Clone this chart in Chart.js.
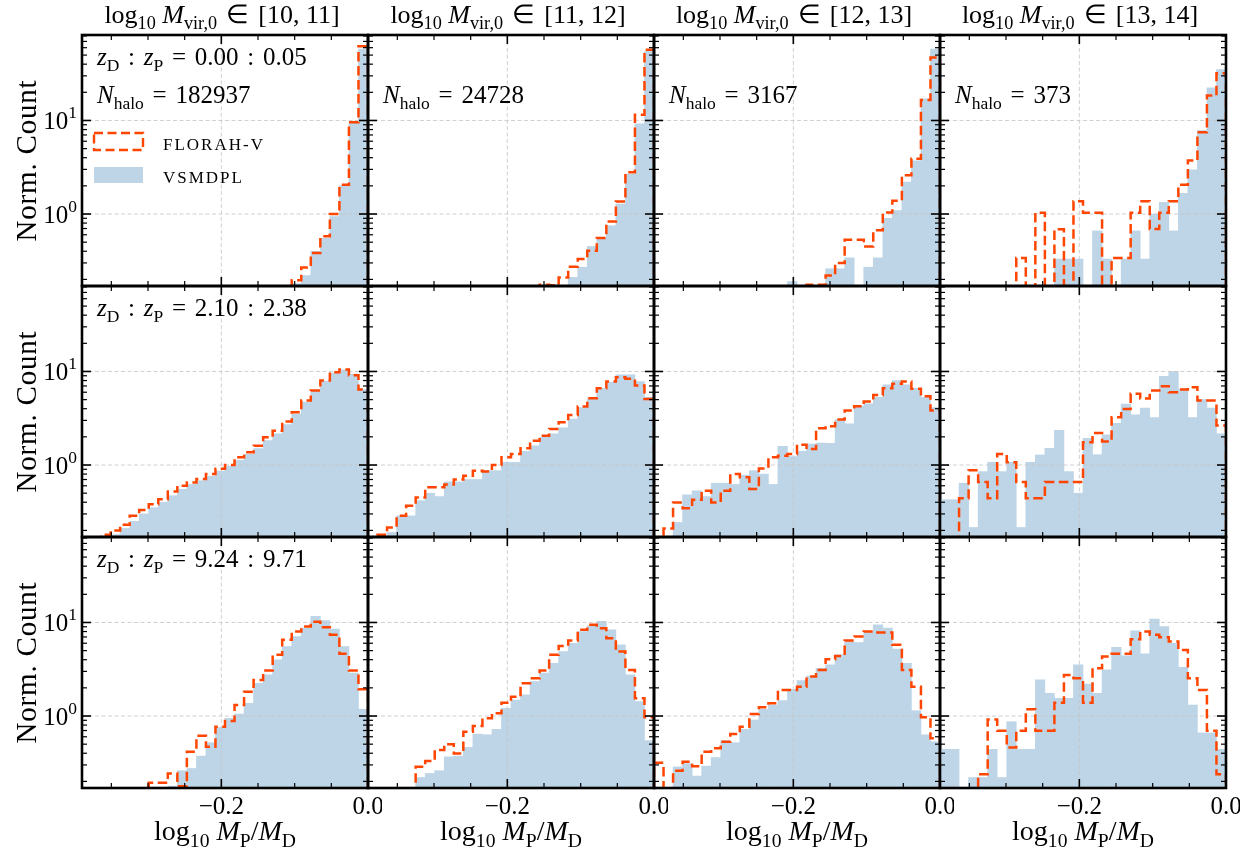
<!DOCTYPE html>
<html>
<head>
<meta charset="utf-8">
<script src="https://cdn.jsdelivr.net/npm/chart.js@4.4.1/dist/chart.umd.min.js"></script>
<style>
  html, body { margin: 0; padding: 0; background: #fff; }
  #fig { position: relative; width: 1258px; height: 856px; overflow: hidden; }
  #fig canvas { position: absolute; }
</style>
</head>
<body>
<div id="fig"></div>
<script>
// histogram bins in log10(M_P / M_D), 30 bins of 0.013 from -0.39 to 0
const binEdges = Array.from({ length: 31 }, (_, i) => (-390 + 13 * i) / 1000)

const massRanges = ['[10, 11]', '[11, 12]', '[12, 13]', '[13, 14]']
const redshiftPairs = [['0.00', '0.05'], ['2.10', '2.38'], ['9.24', '9.71']]
const haloCounts = [182937, 24728, 3167, 373]

const xMajorTicks = [-0.2, 0.0]
const xTickLabels = ['\u22120.2', '0.0']
const xMinorTicks = [-0.35, -0.3, -0.25, -0.15, -0.1, -0.05]
const yMajorTicks = [1, 10]
const yTickExponents = ['0', '1']
const yMinorTicks = [0.2, 0.3, 0.4, 0.5, 0.6, 0.7, 0.8, 0.9, 2, 3, 4, 5, 6, 7, 8, 9, 20, 30, 40, 50, 60, 70, 80]

// z = 0.00 : 0.05
const florah_z0_m10 = [0, 0, 0, 0, 0, 0, 0, 0, 0, 0, 0, 0, 0, 0, 0, 0, 0, 0, 0, 0, 0, 0.1, 0.196, 0.268, 0.382, 0.577, 1.0, 2.05, 9.6, 62]
const vsmdpl_z0_m10 = [0, 0, 0, 0, 0, 0, 0, 0, 0, 0, 0, 0, 0, 0, 0, 0, 0, 0, 0, 0, 0, 0, 0.18, 0.22, 0.40, 0.55, 0.94, 2.0, 9.4, 58]
const florah_z0_m11 = [0, 0, 0, 0, 0, 0, 0, 0, 0, 0, 0, 0, 0, 0, 0, 0, 0, 0, 0.175, 0.173, 0.21, 0.273, 0.33, 0.405, 0.553, 0.83, 1.36, 2.79, 11.5, 57]
const vsmdpl_z0_m11 = [0, 0, 0, 0, 0, 0, 0, 0, 0, 0, 0, 0, 0, 0, 0, 0, 0, 0, 0, 0, 0.17, 0.21, 0.27, 0.45, 0.55, 0.75, 1.28, 2.68, 9.2, 55]
const florah_z0_m12 = [0, 0, 0, 0, 0, 0, 0, 0, 0, 0, 0, 0, 0, 0, 0, 0, 0.175, 0.175, 0.22, 0.30, 0.53, 0.53, 0.45, 0.67, 1.04, 1.39, 2.6, 3.9, 16.6, 47]
const vsmdpl_z0_m12 = [0, 0, 0, 0, 0, 0, 0, 0, 0, 0, 0, 0, 0, 0, 0.19, 0, 0, 0, 0.26, 0.26, 0.34, 0, 0.27, 0.34, 0.9, 1.09, 2.2, 3.7, 17, 58]
const florah_z0_m13 = [0, 0, 0, 0, 0, 0, 0, 0, 0.338, 0, 1.03, 0, 0.686, 0, 1.37, 1.03, 1.03, 0, 0.338, 0.338, 1.03, 1.37, 0.69, 1.03, 1.37, 2.06, 3.73, 7.5, 18.5, 32]
const vsmdpl_z0_m13 = [0, 0, 0, 0, 0, 0, 0, 0, 0, 0, 0, 0, 0.33, 0.33, 0.33, 0, 0.66, 0.33, 0, 0.33, 0.66, 0.33, 1.0, 1.33, 0.66, 1.66, 2.96, 7.8, 22.4, 35]

// z = 2.10 : 2.38
const florah_z2_m10 = [0, 0.16, 0.18, 0.20, 0.23, 0.286, 0.33, 0.38, 0.43, 0.52, 0.60, 0.65, 0.71, 0.80, 0.91, 1.0, 1.21, 1.37, 1.61, 1.98, 2.33, 2.91, 3.66, 4.88, 6.25, 8.0, 9.8, 10.5, 9.1, 6.4]
const vsmdpl_z2_m10 = [0, 0.15, 0.17, 0.18, 0.21, 0.25, 0.30, 0.35, 0.40, 0.47, 0.55, 0.62, 0.68, 0.76, 0.86, 0.97, 1.12, 1.30, 1.50, 1.82, 2.15, 2.7, 3.5, 4.7, 6.1, 7.9, 9.6, 10.4, 9.4, 6.4]
const florah_z2_m11 = [0, 0.18, 0.215, 0.286, 0.366, 0.45, 0.577, 0.577, 0.62, 0.70, 0.77, 0.87, 0.85, 1.0, 1.21, 1.31, 1.51, 1.82, 2.06, 2.43, 2.87, 3.43, 4.22, 5.18, 6.63, 7.81, 8.69, 8.35, 7.08, 5.09]
const vsmdpl_z2_m11 = [0, 0, 0.19, 0.286, 0.286, 0.415, 0.5, 0.46, 0.66, 0.66, 0.7, 0.7, 0.87, 0.87, 1.07, 1.07, 1.4, 1.6, 1.98, 2.15, 2.5, 3.1, 4.1, 5.1, 6.6, 7.7, 9.2, 9.2, 7.8, 5.3]
const florah_z2_m12 = [0, 0.21, 0.398, 0.344, 0.425, 0.531, 0.398, 0.531, 0.80, 0.74, 0.553, 0.92, 1.21, 1.26, 1.31, 1.65, 1.48, 2.47, 2.6, 3.06, 3.82, 4.25, 4.77, 5.62, 6.63, 7.38, 7.81, 6.52, 5.44, 3.82]
const vsmdpl_z2_m12 = [0, 0, 0.243, 0.48, 0.53, 0.46, 0.64, 0.64, 0.62, 0.78, 0.87, 0.80, 0.62, 1.58, 1.23, 1.4, 1.67, 1.72, 1.71, 3.06, 2.75, 4.25, 4.5, 5.3, 7.2, 8.0, 7.2, 6.6, 5.3, 4.1]
const florah_z2_m13 = [0, 0, 0.44, 0.88, 0.66, 0.44, 1.31, 1.07, 0.66, 0.44, 0.44, 0.66, 0.66, 0.66, 0.66, 1.75, 2.2, 1.78, 3.24, 3.98, 5.77, 5.15, 6.26, 6.96, 6.0, 6.41, 6.79, 4.88, 4.88, 2.64]
const vsmdpl_z2_m13 = [0.425, 0.425, 0.64, 0.215, 0.85, 1.07, 0.85, 1.07, 0.215, 1.07, 1.28, 1.51, 2.35, 0.85, 0.5, 1.93, 1.29, 2.1, 2.79, 4.47, 3.43, 4.05, 3.21, 8.9, 10.0, 6.5, 3.21, 5.0, 4.05, 2.15]

// z = 9.24 : 9.71
const florah_z9_m10 = [0, 0, 0, 0, 0, 0, 0, 0.193, 0.193, 0.243, 0.178, 0.415, 0.615, 0.469, 0.769, 0.883, 1.31, 1.82, 2.43, 3.06, 4.51, 6.52, 8.01, 9.06, 10.2, 8.9, 7.38, 4.62, 3.06, 1.93]
const vsmdpl_z9_m10 = [0, 0, 0, 0, 0, 0, 0, 0, 0, 0.178, 0.26, 0.275, 0.373, 0.518, 0.755, 0.944, 1.05, 1.37, 2.24, 2.75, 3.98, 5.53, 7.08, 8.7, 11.6, 10.5, 8.49, 5.53, 2.87, 1.18]
const florah_z9_m11 = [0, 0, 0, 0, 0, 0.286, 0.33, 0.432, 0.5, 0.398, 0.68, 0.78, 0.944, 1.07, 1.39, 1.61, 2.24, 2.53, 3.06, 4.51, 5.62, 6.41, 8.35, 9.44, 8.69, 6.79, 4.88, 3.11, 1.55, 0.968]
const vsmdpl_z9_m11 = [0, 0, 0, 0, 0, 0.22, 0.243, 0.26, 0.366, 0.373, 0.462, 0.641, 0.63, 0.72, 1.21, 1.48, 1.68, 2.33, 2.87, 3.66, 4.88, 6.0, 8.0, 9.2, 10.3, 8.35, 5.77, 2.75, 1.43, 0.545]
const florah_z9_m12 = [0.316, 0, 0.26, 0.324, 0.291, 0.415, 0.451, 0.531, 0.641, 0.769, 1.05, 1.24, 1.37, 1.9, 1.9, 2.06, 2.64, 3.11, 4.05, 4.39, 6.41, 7.08, 8.0, 7.8, 7.8, 5.77, 3.11, 2.06, 0.97, 0.577]
const vsmdpl_z9_m12 = [0, 0, 0.286, 0.31, 0.228, 0.291, 0.36, 0.545, 0.518, 0.72, 0.906, 1.18, 1.31, 1.46, 1.93, 2.39, 2.68, 3.24, 3.52, 4.51, 6.25, 6.1, 8.0, 9.44, 8.7, 5.18, 3.66, 1.14, 0.63, 0.53]
const florah_z9_m13 = [0, 0, 0, 0, 0.239, 0.92, 0.697, 0.462, 0.697, 1.18, 0.697, 0.697, 1.39, 2.75, 2.53, 1.39, 3.24, 4.33, 4.62, 4.62, 6.63, 8.0, 7.38, 6.96, 6.26, 5.09, 2.53, 1.9, 0.697, 0.239]
const vsmdpl_z9_m13 = [0.44, 0.44, 0, 0.22, 0.22, 0.44, 0.22, 0.87, 0.44, 0.44, 2.43, 1.75, 1.55, 1.55, 3.52, 2.2, 1.75, 3.11, 5.44, 4.39, 8.14, 4.62, 10.9, 9.06, 6.0, 3.32, 1.31, 0.66, 0.66, 0.44]

const florahGrid = [
  [florah_z0_m10, florah_z0_m11, florah_z0_m12, florah_z0_m13],
  [florah_z2_m10, florah_z2_m11, florah_z2_m12, florah_z2_m13],
  [florah_z9_m10, florah_z9_m11, florah_z9_m12, florah_z9_m13],
]
const vsmdplGrid = [
  [vsmdpl_z0_m10, vsmdpl_z0_m11, vsmdpl_z0_m12, vsmdpl_z0_m13],
  [vsmdpl_z2_m10, vsmdpl_z2_m11, vsmdpl_z2_m12, vsmdpl_z2_m13],
  [vsmdpl_z9_m10, vsmdpl_z9_m11, vsmdpl_z9_m12, vsmdpl_z9_m13],
]

const X_MIN = -0.39, X_MAX = 0
const Y_MIN = 0.17, Y_MAX = 82
const FLOOR = 0.01 // empty bins drop below the axis

const ORANGE = '#ff4500'
const BLUE = '#bdd5e7'
const GRID = '#c4c4c4'
const SERIF = '"Liberation Serif", "Times New Roman", serif'

const PANEL_X = [82, 368, 654, 940]
const PANEL_Y = [35, 286, 537]
const PANEL_W = 286
const PANEL_H = 251
const PAD = { left: 90, right: 14, top: 40, bottom: 70 }

// step outline like a histtype='step' histogram
function outlinePoints(counts) {
  const pts = [{ x: binEdges[0], y: FLOOR }]
  counts.forEach((c, i) => {
    const v = c > 0 ? c : FLOOR
    pts.push({ x: binEdges[i], y: v }, { x: binEdges[i + 1], y: v })
  })
  pts.push({ x: binEdges[binEdges.length - 1], y: FLOOR })
  return pts
}

function barPoints(counts) {
  return counts.map((c, i) => ({ x: (binEdges[i] + binEdges[i + 1]) / 2, y: c > 0 ? c : null }))
}

// text with italic letters, sub/superscripts and spaced relation signs
function drawRich(ctx, parts, x, y, size, align) {
  const runs = parts.map(([text, style = '']) => {
    const small = style.includes('sub') || style.includes('sup')
    const px = small ? size * 0.7 : size
    const font = (style.includes('it') ? 'italic ' : '') + px + 'px ' + SERIF
    ctx.font = font
    const dy = style.includes('sub') ? size * 0.24 : style.includes('sup') ? -size * 0.42 : 0
    const pad = style.includes('rel') ? size * 0.35 : 0
    return { text, font, dy, pad, w: ctx.measureText(text).width + 2 * pad }
  })
  const total = runs.reduce((s, r) => s + r.w, 0)
  let cx = align === 'center' ? x - total / 2 : align === 'right' ? x - total : x
  ctx.textAlign = 'left'
  ctx.textBaseline = 'alphabetic'
  runs.forEach(r => {
    ctx.font = r.font
    ctx.fillText(r.text, cx + r.pad, y + r.dy)
    cx += r.w
  })
}

function strokeLine(ctx, x1, y1, x2, y2) {
  ctx.beginPath()
  ctx.moveTo(x1, y1)
  ctx.lineTo(x2, y2)
  ctx.stroke()
}

const frame = {
  id: 'frame',
  afterDatasetDraw(chart, args) {
    if (args.meta.type !== 'bar') return
    const { ctx, chartArea: a, scales: { x, y } } = chart
    ctx.save()
    ctx.beginPath()
    ctx.rect(a.left, a.top, a.right - a.left, a.bottom - a.top)
    ctx.clip()
    ctx.strokeStyle = GRID
    ctx.lineWidth = 0.8
    ctx.setLineDash([4, 2.5])
    xMajorTicks.forEach(v => {
      const px = x.getPixelForValue(v)
      strokeLine(ctx, px, a.top, px, a.bottom)
    })
    yMajorTicks.forEach(v => {
      const py = y.getPixelForValue(v)
      strokeLine(ctx, a.left, py, a.right, py)
    })
    ctx.restore()
  },
  afterDraw(chart, args, opts) {
    const { ctx, chartArea: a, scales: { x, y } } = chart
    const { row, col } = opts
    ctx.save()
    ctx.strokeStyle = '#000'
    ctx.fillStyle = '#000'

    // inward ticks on all four sides
    const ticks = (values, len, width, vertical) => {
      ctx.lineWidth = width
      values.forEach(v => {
        if (vertical) {
          const px = x.getPixelForValue(v)
          if (px <= a.left + 1 || px >= a.right - 1) return
          strokeLine(ctx, px, a.bottom, px, a.bottom - len)
          strokeLine(ctx, px, a.top, px, a.top + len)
        } else {
          const py = y.getPixelForValue(v)
          if (py <= a.top + 1 || py >= a.bottom - 1) return
          strokeLine(ctx, a.left, py, a.left + len, py)
          strokeLine(ctx, a.right, py, a.right - len, py)
        }
      })
    }
    ticks(xMajorTicks, 9, 1.6, true)
    ticks(xMinorTicks, 5, 1.2, true)
    ticks(yMajorTicks, 9, 1.6, false)
    ticks(yMinorTicks, 5, 1.2, false)

    ctx.lineWidth = 2.6
    ctx.strokeRect(a.left, a.top, a.right - a.left, a.bottom - a.top)

    // tick labels and axis labels
    if (row === 2) {
      ctx.font = '25px ' + SERIF
      ctx.textAlign = 'center'
      ctx.textBaseline = 'alphabetic'
      xMajorTicks.forEach((v, i) => ctx.fillText(xTickLabels[i], x.getPixelForValue(v), a.bottom + 26))
      drawRich(ctx, [['log'], ['10', 'sub'], [' '], ['M', 'it'], ['P', 'sub'], ['/'], ['M', 'it'], ['D', 'sub']],
        (a.left + a.right) / 2, a.bottom + 52, 28, 'center')
    }
    if (col === 0) {
      yMajorTicks.forEach((v, i) => {
        drawRich(ctx, [['10'], [yTickExponents[i], 'sup']], a.left - 5, y.getPixelForValue(v) + 8.5, 25, 'right')
      })
      ctx.save()
      ctx.translate(a.left - 46, (a.top + a.bottom) / 2)
      ctx.rotate(-Math.PI / 2)
      ctx.font = '29px ' + SERIF
      ctx.letterSpacing = '0.8px'
      ctx.textAlign = 'center'
      ctx.fillText('Norm. Count', 0, 0)
      ctx.restore()
    }

    // column headers and panel annotations
    if (row === 0) {
      drawRich(ctx, [['log'], ['10', 'sub'], [' '], ['M', 'it'], ['vir,0', 'sub'], ['\u2208', 'rel'], [massRanges[col]]],
        (a.left + a.right) / 2 - 3, a.top - 12, 26, 'center')
      drawRich(ctx, [['N', 'it'], ['halo', 'sub'], ['=', 'rel'], [String(haloCounts[col])]], a.left + 15, a.top + 68, 25, 'left')
    }
    if (col === 0) {
      const [zd, zp] = redshiftPairs[row]
      drawRich(ctx, [['z', 'it'], ['D', 'sub'], [':', 'rel'], ['z', 'it'], ['P', 'sub'], ['=', 'rel'], [zd], [':', 'rel'], [zp]],
        a.left + 15, a.top + 30, 25, 'left')
    }

    // legend
    if (row === 0 && col === 0) {
      ctx.save()
      ctx.strokeStyle = ORANGE
      ctx.lineWidth = 2.4
      ctx.setLineDash([9, 4.5])
      ctx.strokeRect(a.left + 12, a.top + 98, 49, 17)
      ctx.restore()
      ctx.fillStyle = BLUE
      ctx.fillRect(a.left + 12, a.top + 132, 49, 16)
      ctx.fillStyle = '#000'
      ctx.font = '17px ' + SERIF
      ctx.letterSpacing = '2px'
      ctx.textAlign = 'left'
      ctx.fillText('FLORAH-V', a.left + 81, a.top + 115)
      ctx.fillText('VSMDPL', a.left + 81, a.top + 148)
      ctx.letterSpacing = '0px'
    }
    ctx.restore()
  }
}

const fig = document.getElementById('fig')

PANEL_Y.forEach((top, row) => {
  PANEL_X.forEach((left, col) => {
    const canvas = document.createElement('canvas')
    const w = PANEL_W + PAD.left + PAD.right
    const h = PANEL_H + PAD.top + PAD.bottom
    canvas.width = w
    canvas.height = h
    canvas.style.width = w + 'px'
    canvas.style.height = h + 'px'
    canvas.style.left = (left - PAD.left) + 'px'
    canvas.style.top = (top - PAD.top) + 'px'
    fig.appendChild(canvas)

    new Chart(canvas, {
      type: 'bar',
      data: {
        datasets: [
          {
            type: 'line',
            label: 'FLORAH-V',
            data: outlinePoints(florahGrid[row][col]),
            borderColor: ORANGE,
            borderWidth: 2.5,
            borderDash: [9.5, 4.5],
            pointRadius: 0,
            fill: false,
            tension: 0,
            order: 0,
          },
          {
            type: 'bar',
            label: 'VSMDPL',
            data: barPoints(vsmdplGrid[row][col]),
            backgroundColor: BLUE,
            borderWidth: 0,
            barPercentage: 1,
            categoryPercentage: 1,
            grouped: false,
            base: Y_MIN,
            order: 1,
          },
        ],
      },
      options: {
        responsive: false,
        animation: false,
        devicePixelRatio: 1,
        events: [],
        layout: { padding: PAD },
        scales: {
          x: { type: 'linear', min: X_MIN, max: X_MAX, offset: false, display: false },
          y: { type: 'logarithmic', min: Y_MIN, max: Y_MAX, display: false },
        },
        plugins: {
          legend: { display: false },
          tooltip: { enabled: false },
          frame: { row, col },
        },
      },
      plugins: [frame],
    })
  })
})
</script>
</body>
</html>
